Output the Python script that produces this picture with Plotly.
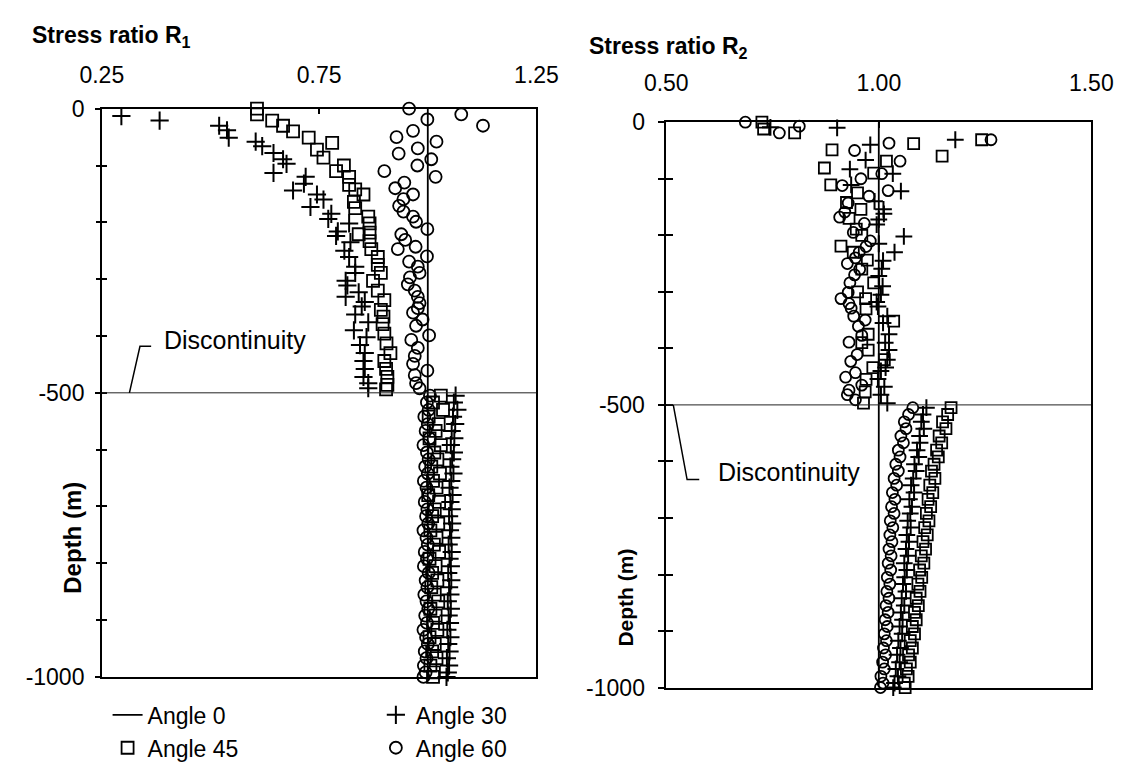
import plotly.graph_objects as go

# ---------------- DATA ----------------
# Left panel (Stress ratio R1), above the discontinuity
L30_depth_up = [-13,-21,-30,-38,-51,-58,-66,-78,-89,-97,-113,-120,-132,-144,-151,-160,-173,-185,-194,-202,
                -216,-224,-235,-250,-261,-278,-289,-303,-311,-323,-331,-340,-348,-362,-376,-390,-402,-416,
                -430,-444,-458,-472,-483,-492]
L30_ratio_up = [0.295,0.383,0.520,0.538,0.542,0.604,0.619,0.645,0.667,0.675,0.645,0.719,0.715,0.690,0.745,
                0.760,0.730,0.778,0.771,0.819,0.793,0.789,0.822,0.808,0.819,0.833,0.833,0.811,0.815,0.841,
                0.811,0.855,0.848,0.833,0.863,0.830,0.859,0.844,0.855,0.852,0.855,0.852,0.863,0.863]
L45_depth_up = [0,-10,-21,-30,-40,-51,-60,-72,-86,-100,-110,-120,-134,-142,-151,-164,-175,-190,-202,-218,
                -221,-233,-247,-261,-275,-289,-303,-320,-337,-354,-366,-379,-396,-413,-430,-444,-458,-472,
                -486,-494]
L45_ratio_up = [0.607,0.607,0.642,0.667,0.690,0.726,0.780,0.745,0.760,0.807,0.789,0.819,0.819,0.833,0.852,
                0.830,0.833,0.863,0.866,0.866,0.841,0.866,0.870,0.885,0.885,0.892,0.874,0.885,0.900,0.892,
                0.898,0.896,0.900,0.905,0.914,0.900,0.904,0.907,0.907,0.904]
L60_depth_up = [0,-10,-19,-30,-39,-50,-58,-70,-79,-89,-100,-110,-120,-130,-140,-151,-159,-171,-181,-190,
                -199,-212,-221,-231,-243,-247,-260,-269,-278,-289,-297,-309,-320,-331,-342,-351,-359,-371,
                -382,-399,-407,-421,-435,-449,-461,-469,-483,-492]
L60_ratio_up = [0.957,1.077,0.999,1.127,0.966,0.928,1.020,0.977,0.933,1.008,0.976,0.900,1.018,0.946,0.925,
                0.966,0.944,0.934,0.944,0.966,0.973,0.999,0.939,0.948,0.972,0.931,0.998,0.957,0.977,0.981,
                0.959,0.954,0.970,0.977,0.981,0.977,0.966,0.988,0.973,1.003,0.962,0.977,0.970,0.966,0.999,
                0.970,0.973,0.981]

# Below the discontinuity (shared measurement depths)
depth_low = [-505,-517,-530,-542,-555,-567,-580,-592,-605,-617,-630,-642,-655,-667,-680,-692,-705,-717,
             -730,-742,-755,-767,-780,-792,-805,-817,-830,-842,-855,-867,-880,-892,-905,-917,-930,-942,
             -955,-967,-980,-992,-1000]
L30_ratio_low = [1.064,1.060,1.068,1.058,1.063,1.055,1.061,1.053,1.060,1.056,1.052,1.059,1.054,1.050,1.057,
                 1.052,1.055,1.049,1.056,1.051,1.054,1.048,1.055,1.050,1.053,1.047,1.054,1.049,1.052,1.046,
                 1.053,1.048,1.051,1.045,1.052,1.047,1.050,1.044,1.049,1.046,1.043]
L45_ratio_low = [1.030,1.012,1.035,1.002,1.025,1.018,1.004,1.030,1.015,1.022,1.008,1.028,1.012,1.020,1.001,
                 1.026,1.016,1.010,1.024,1.006,1.020,1.014,1.026,1.004,1.018,1.010,1.022,1.008,1.016,1.024,
                 1.006,1.018,1.012,1.022,1.004,1.016,1.010,1.020,1.006,1.014,1.012]
L60_ratio_low = [1.005,0.998,1.002,0.992,1.000,0.995,1.004,0.990,0.998,1.002,0.994,1.000,0.991,0.997,1.003,
                 0.993,0.999,0.996,1.001,0.990,0.997,1.000,0.993,0.998,0.991,1.002,0.995,0.999,0.992,0.997,
                 1.001,0.994,0.998,0.990,0.996,1.000,0.993,0.997,0.991,0.995,0.990]

# Right panel (Stress ratio R2), above the discontinuity
R30_depth_up = [-9,-10,-31,-40,-67,-83,-91,-111,-122,-140,-154,-162,-172,-181,-202,-215,-230,-245,-259,-272,
                -290,-305,-318,-326,-343,-355,-375,-390,-403,-420,-434,-440,-454,-468,-482,-497]
R30_ratio_up = [0.745,0.902,1.180,0.980,0.969,0.932,1.033,0.935,1.052,0.990,1.011,1.012,1.000,0.995,1.059,
                1.000,1.037,1.010,1.007,1.000,1.009,1.005,0.995,0.998,1.020,1.010,1.024,1.015,1.024,1.020,
                1.016,1.005,0.998,1.013,1.005,1.020]
R45_depth_up = [0,-12,-19,-31,-38,-49,-60,-69,-81,-90,-111,-125,-142,-154,-170,-189,-200,-219,-230,-244,
                -260,-284,-300,-312,-330,-352,-375,-390,-403,-420,-434,-455,-477,-497]
R45_ratio_up = [0.725,0.729,0.802,1.242,1.082,0.890,1.149,1.018,0.872,0.988,0.887,0.950,0.924,0.958,0.930,
                0.947,0.960,0.911,0.940,0.973,0.960,0.988,0.950,0.969,0.970,1.035,0.975,0.960,0.975,1.013,
                0.986,0.970,0.968,0.964]
R60_depth_up = [0,-7,-19,-31,-37,-50,-69,-91,-100,-112,-121,-131,-143,-159,-168,-179,-195,-210,-220,-230,
                -240,-250,-260,-270,-284,-301,-312,-321,-329,-343,-350,-361,-377,-389,-411,-423,-443,-451,
                -465,-474,-482,-491]
R60_ratio_up = [0.686,0.813,0.766,1.264,1.024,0.943,1.050,1.007,0.958,0.914,1.022,0.977,0.928,0.920,0.908,
                0.966,0.940,0.980,0.970,0.954,0.945,0.926,0.955,0.943,0.932,0.928,0.911,0.930,0.935,0.941,
                0.968,0.952,0.960,0.930,0.949,0.934,0.945,0.922,0.960,0.930,0.926,0.945]
R30_ratio_low = [1.112,1.104,1.100,1.106,1.096,1.097,1.090,1.094,1.084,1.088,1.081,1.076,1.083,1.072,1.078,
                 1.074,1.068,1.075,1.066,1.071,1.064,1.069,1.060,1.066,1.061,1.057,1.064,1.054,1.060,1.052,
                 1.056,1.049,1.055,1.046,1.051,1.043,1.049,1.040,1.045,1.037,1.034]
R45_ratio_low = [1.170,1.162,1.150,1.158,1.142,1.148,1.136,1.140,1.130,1.124,1.132,1.120,1.127,1.116,1.122,
                 1.112,1.118,1.108,1.114,1.104,1.110,1.100,1.106,1.096,1.101,1.092,1.097,1.088,1.093,1.084,
                 1.088,1.079,1.084,1.074,1.079,1.070,1.074,1.065,1.069,1.060,1.062]
R60_ratio_low = [1.080,1.070,1.060,1.064,1.052,1.058,1.046,1.050,1.040,1.046,1.036,1.042,1.032,1.038,1.030,
                 1.036,1.027,1.033,1.026,1.031,1.024,1.029,1.022,1.028,1.020,1.026,1.019,1.024,1.017,1.022,
                 1.015,1.020,1.013,1.018,1.011,1.016,1.009,1.013,1.005,1.010,1.004]

# Angle 0 reference line
angle0_ratio = [1.0, 1.0]
angle0_depth = [0, -1000]

discontinuity_depth = -500
depth_minor_ticks = [0,-100,-200,-300,-400,-500,-600,-700,-800,-900,-1000]
depth_label_ticks = [0, -500, -1000]
depth_labels = ['0', '-500', '-1000']
R1_ticks = [0.25, 0.75, 1.25]
R1_labels = ['0.25', '0.75', '1.25']
R2_ticks = [0.5, 1.0, 1.5]
R2_labels = ['0.50', '1.00', '1.50']

# ---------------- FIGURE ----------------
W, H = 1146, 775
FONT = 'Liberation Sans, Arial, Helvetica, sans-serif'

def px_x(p):
    return p / W

def px_y(p):
    return 1 - p / H

fig = go.Figure()

def add_panel(xa, ya, d30, r30, d45, r45, d60, r60, show, msize):
    fig.add_trace(go.Scatter(x=angle0_ratio, y=angle0_depth, mode='lines', name='Angle 0',
                             line=dict(color='black', width=1.8), xaxis=xa, yaxis=ya,
                             showlegend=show, legend='legend'))
    fig.add_trace(go.Scatter(x=r45, y=d45, mode='markers', name='Angle 45', xaxis=xa, yaxis=ya,
                             marker=dict(symbol='square-open', size=msize, color='black',
                                         line=dict(width=1.8, color='black')),
                             showlegend=show, legend='legend', cliponaxis=False))
    fig.add_trace(go.Scatter(x=r30, y=d30, mode='markers', name='Angle 30', xaxis=xa, yaxis=ya,
                             marker=dict(symbol='cross-thin-open', size=msize + 1, color='black',
                                         line=dict(width=2, color='black')),
                             showlegend=show, legend='legend2', cliponaxis=False))
    fig.add_trace(go.Scatter(x=r60, y=d60, mode='markers', name='Angle 60', xaxis=xa, yaxis=ya,
                             marker=dict(symbol='circle-open', size=msize, color='black',
                                         line=dict(width=1.8, color='black')),
                             showlegend=show, legend='legend2', cliponaxis=False))

add_panel('x', 'y',
          L30_depth_up + depth_low, L30_ratio_up + L30_ratio_low,
          L45_depth_up + depth_low, L45_ratio_up + L45_ratio_low,
          L60_depth_up + depth_low, L60_ratio_up + L60_ratio_low, True, 12)
add_panel('x2', 'y2',
          R30_depth_up + depth_low, R30_ratio_up + R30_ratio_low,
          R45_depth_up + depth_low, R45_ratio_up + R45_ratio_low,
          R60_depth_up + depth_low, R60_ratio_up + R60_ratio_low, False, 11)

# invisible traces so the tick-overlay axes exist
for xa, ya in [('x', 'y3'), ('x', 'y5'), ('x2', 'y4'), ('x2', 'y6')]:
    fig.add_trace(go.Scatter(x=[None], y=[None], xaxis=xa, yaxis=ya, showlegend=False, hoverinfo='skip'))

left_dom_x = [px_x(83), px_x(535)]
left_dom_y = [px_y(687), px_y(99)]
right_dom_x = [px_x(670), px_x(1112)]
right_dom_y = [px_y(698), px_y(113)]

axis_common = dict(showgrid=False, zeroline=False, showline=True, linecolor='black', linewidth=1.5,
                   mirror=True, tickcolor='black', tickwidth=1.5)

def tick_overlay(base, anchor, side, length):
    return dict(overlaying=base, anchor=anchor, range=[-1000, 0], tickmode='array',
                tickvals=depth_minor_ticks, ticks=side, ticklen=length, tickcolor='black',
                tickwidth=1.5, showticklabels=False, showline=False, showgrid=False, zeroline=False)

fig.update_layout(
    width=W, height=H, margin=dict(l=0, r=0, t=0, b=0),
    paper_bgcolor='white', plot_bgcolor='white',
    font=dict(family=FONT, size=23, color='black'),
    xaxis=dict(domain=left_dom_x, range=[0.25, 1.25], side='top', anchor='y',
               tickmode='array', tickvals=R1_ticks, ticktext=R1_labels,
               ticks='inside', ticklen=6, ticklabelstandoff=15, **axis_common),
    yaxis=dict(domain=left_dom_y, range=[-1000, 0], anchor='x',
               tickmode='array', tickvals=depth_label_ticks, ticktext=depth_labels,
               ticks='outside', ticklen=5, ticklabelstandoff=6, **axis_common),
    yaxis3=tick_overlay('y', 'x', 'inside', 5),
    yaxis5=tick_overlay('y', 'x', 'outside', 5),
    xaxis2=dict(domain=right_dom_x, range=[0.5, 1.5], side='top', anchor='y2',
                tickmode='array', tickvals=R2_ticks, ticktext=R2_labels,
                ticks='inside', ticklen=6, ticklabelstandoff=20, **axis_common),
    yaxis2=dict(domain=right_dom_y, range=[-1000, 0], anchor='x2',
                tickmode='array', tickvals=depth_label_ticks, ticktext=depth_labels,
                ticks='outside', ticklen=7, ticklabelstandoff=8, **axis_common),
    yaxis4=tick_overlay('y2', 'x2', 'inside', 7),
    yaxis6=tick_overlay('y2', 'x2', 'outside', 7),
    legend=dict(x=px_x(89), y=px_y(704), xanchor='left', yanchor='top', bgcolor='rgba(0,0,0,0)',
                font=dict(size=23), tracegroupgap=0),
    legend2=dict(x=px_x(368), y=px_y(704), xanchor='left', yanchor='top', bgcolor='rgba(0,0,0,0)',
                 font=dict(size=23), tracegroupgap=0),
    showlegend=True,
)

# Discontinuity lines
fig.add_shape(type='line', xref='x', yref='y', x0=0.25, x1=1.25,
              y0=discontinuity_depth, y1=discontinuity_depth, line=dict(color='#222', width=1))
fig.add_shape(type='line', xref='x2', yref='y2', x0=0.5, x1=1.5,
              y0=discontinuity_depth, y1=discontinuity_depth, line=dict(color='#222', width=1))
# Leader lines
fig.add_shape(type='path', xref='x', yref='y',
              path='M 0.3135,-500 L 0.3378,-418 L 0.3635,-418', line=dict(color='black', width=1.5))
fig.add_shape(type='path', xref='x2', yref='y2',
              path='M 0.5165,-500 L 0.549,-632 L 0.5776,-632', line=dict(color='black', width=1.5))

fig.add_annotation(x=0.389, y=-407, xref='x', yref='y', text='Discontinuity', showarrow=False,
                   xanchor='left', yanchor='middle', font=dict(size=25))
fig.add_annotation(x=0.617, y=-619, xref='x2', yref='y2', text='Discontinuity', showarrow=False,
                   xanchor='left', yanchor='middle', font=dict(size=25))

# Axis titles
fig.add_annotation(x=px_x(8), y=px_y(24), xref='paper', yref='paper', text='<b>Stress ratio R<sub>1</sub></b>',
                   showarrow=False, xanchor='left', yanchor='middle', font=dict(size=23))
fig.add_annotation(x=px_x(588), y=px_y(36), xref='paper', yref='paper', text='<b>Stress ratio R<sub>2</sub></b>',
                   showarrow=False, xanchor='left', yanchor='middle', font=dict(size=23))
fig.add_annotation(x=px_x(53), y=px_y(543), xref='paper', yref='paper', text='<b>Depth (m)</b>',
                   showarrow=False, textangle=-90, xanchor='center', yanchor='middle', font=dict(size=24))
fig.add_annotation(x=px_x(628), y=px_y(605), xref='paper', yref='paper', text='<b>Depth (m)</b>',
                   showarrow=False, textangle=-90, xanchor='center', yanchor='middle', font=dict(size=21))

fig.write_html('out.html')
